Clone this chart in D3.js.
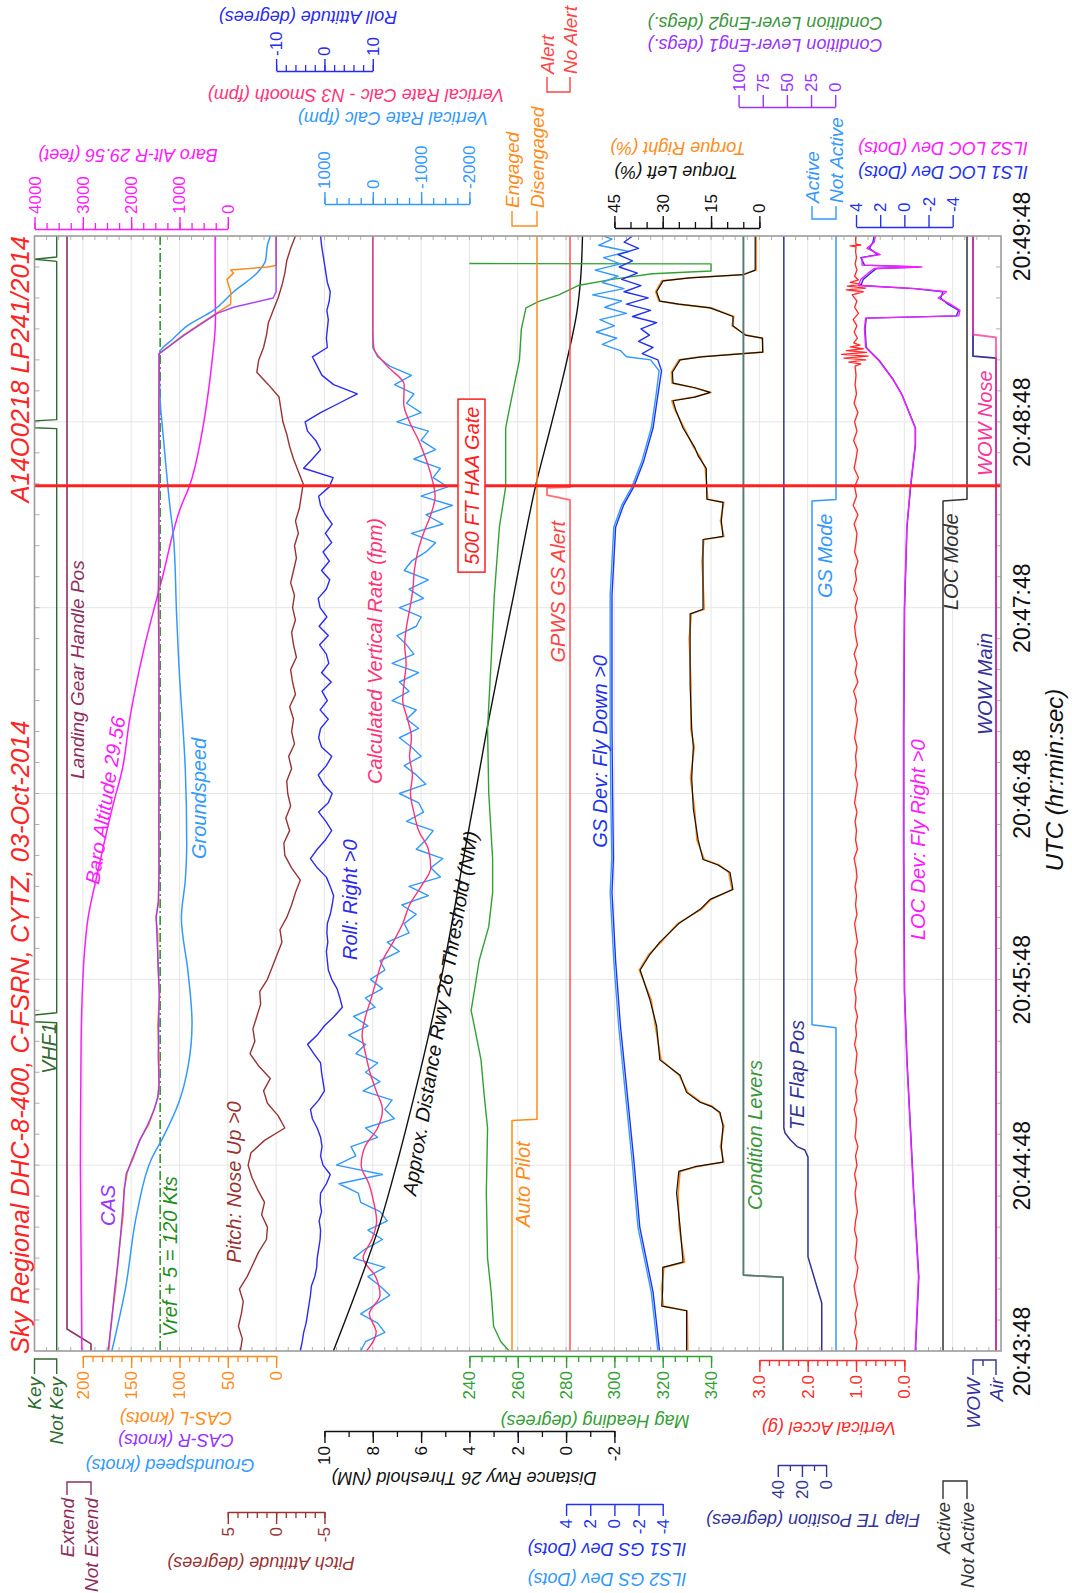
<!DOCTYPE html>
<html>
<head>
<meta charset="utf-8">
<title>Sky Regional DHC-8-400 C-FSRN approach CYTZ</title>
<script src="https://cdn.jsdelivr.net/npm/d3@7"></script>
<style>
  html, body { margin: 0; padding: 0; background: #fff; }
  svg { display: block; font-family: "Liberation Sans", Arial, Helvetica, sans-serif; }
</style>
</head>
<body>
<svg id="chart" width="1072" height="1593"></svg>
<script>
// ---------------------------------------------------------------
// Flight data, seconds after 20:43:48 UTC
// ---------------------------------------------------------------
const timeTicksSec = [0, 60, 120, 180, 240, 300, 360];
const haaGateSec = 279.4;

// discrete parameters: [sec, state]
const keyPts      = [[0,0],[106,0],[106.3,1],[108.5,1],[109.2,0],[297.8,0],[298.1,1],[300.3,1],[300.7,0],[351.8,0],[352.5,1],[353.2,0],[360,0]];
const gearPts     = [[0,0],[2.3,0],[7.1,1],[360,1]];
const autoPilotPts= [[0,1],[74.4,1],[74.8,0],[360,0]];
const gpwsPts     = [[0,0],[274.8,0],[276.3,1],[278.7,1],[278.9,0],[360,0]];
const gsModePts   = [[0,0],[104.4,0],[105.3,1],[274.4,1],[274.9,0],[360,0]];
const locModePts  = [[0,1],[274.4,1],[275,0],[360,0]];
const wowMainPts  = [[0,0],[320.6,0],[321.2,1],[360,1]];
const wowNosePts  = [[0,0],[327.3,0],[328.2,1],[360,1]];

// Baro Alt-R 29.56 (feet)
const baroAltPts = [[0,3020],[30,3035],[60,3050],[90,3040],[105,3030],[116,3010],[128,2970],[140,2890],[152,2730],[164,2560],[176,2380],[188,2180],[204,2030],[227,1730],[250,1350],[273,960],[279,800],[296,540],[310,400],[319,330],[333,255],[342,260],[360,262]];

// CAS-L, CAS-R, Groundspeed (knots)
const casRPts = [[0,174],[10,170],[20,167],[30,163],[44.5,159],[52,157],[57.5,155],[58.5,153],[62,149],[68,141],[73,133],[78,126],[82,122.5],[86,121],[95,122],[105,121.5],[115,121],[125,122],[135,123.5],[140,124],[145,122],[155,121],[170,121.5],[185,121],[200,121.5],[215,121],[230,121.5],[245,122],[260,121],[275,121.5],[290,121],[305,121.5],[315,121],[322,121],[328,95],[335,61],[337,44],[340,3],[342,0],[360,0]];
const casLPts = [[0,173],[10,170.5],[20,166],[30,163.5],[44.5,158],[52,157.5],[57.5,154],[58.5,153.5],[62,148],[68,141.5],[73,132],[78,126.5],[82,122],[86,121.5],[95,121],[105,122.5],[115,120.5],[125,122.5],[135,122.5],[140,124.5],[145,121.5],[155,121.5],[170,121],[185,121.5],[200,121],[215,121.5],[230,121],[245,121.5],[260,121.5],[275,121],[290,121.5],[305,121],[315,121.5],[322,121],[328,96],[335,62],[338,47],[342,47],[346,51],[348,44],[349,47],[350,9],[350.5,0],[360,0]];
const groundspeedPts = [[0,170],[20,156],[44.5,144],[62,129],[69,117],[80,101],[92,91],[106,87],[122,91],[140,98],[152,94],[164,92.5],[188,94],[204,97],[215.5,99.5],[238,103],[262,106],[273,110],[279,112],[296,117],[307,120],[322,121],[327,106],[331,92],[336,65],[342,44],[348,20],[352,11],[357,9],[360,6]];
const vrefPlus5 = 120;

// Pitch attitude (deg), one value every 4 s
const pitchStep = 4;
const pitchVals = [3.7,3.5,3.9,3.6,3.4,3.8,3.0,2.4,1.8,1.0,
  0.9,1.5,1.2,1.9,2.5,2.9,2.6,1.2,-0.9,-0.2,
  0.9,1.3,0.6,1.8,2.7,2.2,2.4,2.0,1.6,1.7,
  0.9,0.4,-0.1,-0.6,-0.4,-1.1,-1.6,-2.0,-2.5,-1.6,
  -0.9,-0.8,-1.4,-1.0,-1.5,-1.2,-1.1,-1.6,-1.3,-1.9,
  -1.6,-1.8,-1.4,-2.0,-1.7,-1.5,-2.1,-1.8,-1.6,-2.0,
  -1.7,-1.9,-1.5,-1.8,-2.1,-1.9,-2.3,-2.0,-2.4,-2.6,
  -2.8,-2.3,-1.8,-1.4,-1.1,-0.7,-0.5,-0.3,0.8,2.0,
  1.8,1.3,1.0,0.8,0.3,-0.2,-0.6,-0.9,-1.1,-1.5,
  -2.0];

// Roll attitude (deg), one value every 3 s
const rollStep = 3;
const rollVals = [-5.0,-4.6,-4.3,-3.8,-3.5,-3.2,-2.9,-2.7,-2.0,-1.6,
  -1.5,-1.2,-0.9,-0.8,-1.1,-0.6,-0.9,-0.8,0.4,1.2,
  -0.3,-0.8,-0.5,-0.8,-1.5,-2.5,-2.9,-1.2,0.0,-0.3,
  -0.6,-0.8,-2.2,-3.5,-1.5,0.0,2.0,3.7,3.2,2.6,
  1.5,0.8,0.6,0.4,0.7,0.5,0.6,1.2,1.6,1.9,
  1.2,0.4,-1.5,-2.9,-1.5,0.2,1.5,0.3,-1.2,0.8,
  1.6,-0.2,-1.3,0.4,1.5,-0.6,-1.2,-0.8,0.8,-0.9,
  0.6,-0.5,1.4,-0.6,0.9,0.4,-1.0,0.8,-1.1,0.5,
  -0.9,-1.3,0.4,1.1,-0.6,1.0,-0.3,1.5,0.2,1.6,
  0.2,-0.8,-1.2,1.0,1.8,-4.3,-2.5,-0.8,-1.8,-3.5,
  -4.0,-0.8,3.0,6.8,1.9,-0.5,-1.5,-2.5,0.6,0.4,
  0.6,0.8,0.5,1.0,1.2,0.6,0.3,0.0,-0.3,-0.6,
  -0.8];

// Vertical rate calc (fpm), every 3 s
const vrCalcStep = 3;
const vrCalcVals = [250,150,-250,-100,250,-50,-350,-150,100,-250,
  400,150,-200,100,-300,-150,250,300,700,-200,
  750,350,450,-100,150,-450,-250,-400,200,-150,
  150,-100,350,150,500,100,400,-50,150,-200,
  50,-250,-150,-550,-300,-750,-650,-900,-600,-1150,
  -750,-1400,-1200,-1450,-900,-1100,-1250,-700,-1050,-950,
  -550,-1100,-900,-650,-1000,-800,-550,-950,-700,-900,
  -400,-750,-550,-950,-400,-850,-700,-500,-900,-1000,
  -550,-1050,-750,-1150,-650,-800,-1100,-1300,-800,-1450,
  -1100,-1650,-1000,-1550,-1250,-1400,-850,-1300,-1000,-1150,
  -500,-1000,-700,-850,-450,-800,-350,-100,0,0,
  0,0,0,0,0,0,0,0,0,0,
  0];

// Vertical rate calc - N3 smooth (fpm), every 6 s
const vrSmoothStep = 6;
const vrSmoothVals = [130,-70,70,-150,-60,200,20,-80,-20,80,
  240,160,-100,-200,-70,60,150,220,150,30,
  -80,-200,-420,-620,-760,-1000,-1200,-1150,-950,-850,
  -780,-820,-760,-800,-720,-620,-650,-690,-660,-700,
  -770,-830,-860,-930,-1050,-1200,-1290,-1220,-1100,-950,
  -760,-640,-650,-300,-20,0,0,0,0,0,
  0];

// Approx. distance to Rwy 26 threshold (NM)
const distancePts = [[0,9.63],[20,8.65],[40,7.75],[62,6.95],[83.5,6.25],[105,5.6],[126,5.02],[148,4.5],[159,4.25],[180,3.75],[201,3.27],[223,2.72],[244,2.17],[266,1.62],[279,1.27],[298,0.65],[320,-0.04],[336,-0.46],[346,-0.6],[360,-0.68]];

// Magnetic heading (deg)
const headingPts = [[0,256.5],[3,253],[8,250],[19,249],[30,247.5],[51,247],[72,247.5],[83.5,246],[94,244.8],[105,242],[110,240.7],[116,242],[126,244],[137,248],[148,249.6],[159,249.6],[180,248],[201,247.5],[223,249],[244,250.3],[266,252.4],[279,255],[298,255],[304,256.5],[320,260.7],[330,261.5],[336.8,263.4],[339,269],[341,277],[344,285],[346,299],[347.8,315.6],[348.7,345],[351,345],[351.1,235]];

// ILS glideslope deviation (dots)
const gsDev1Pts = [[0,-3.74],[19,-3.2],[40,-2.1],[62,-1.6],[83.5,-1.05],[105,-0.5],[126,-0.1],[148,0.2],[159,0.08],[180,0.15],[201,0.2],[223,0.2],[244,0.2],[266,-0.1],[273,-0.75],[279,-1.6],[287,-2.4],[298,-3.2],[308.7,-3.6],[316.5,-3.9],[320,-3.6],[322,-2.3],[324,-3.2],[326,-2.0],[328,-2.9],[330,-2.2],[332,-3.5],[334,-1.5],[336,-3.0],[338,-1.0],[340,-2.8],[342,-0.8],[344,-2.2],[346,-0.6],[348,-1.9],[350,-0.4],[352,-1.5],[354,-0.3],[356,-2.0],[358,-0.8],[360,-1.5]];
const gsDev2Pts = [[0,-3.6],[19,-3.05],[40,-1.95],[62,-1.45],[83.5,-0.9],[105,-0.35],[126,0.05],[148,0.35],[159,0.22],[180,0.3],[201,0.35],[223,0.35],[244,0.35],[266,0.05],[273,-0.6],[279,-1.45],[287,-2.25],[298,-3.05],[308.7,-3.45],[316.5,-3.7],[320,-3.0],[321,-1.0],[323,-0.5],[325,1.0],[327,-0.2],[329,1.5],[331,0.0],[333,1.2],[335,-1.0],[337,0.8],[339,-0.6],[341,1.8],[343,-0.8],[345,1.0],[347,-0.3],[349,1.6],[351,-0.5],[353,0.9],[355,-1.2],[357,1.3],[359,0.2],[360,0.9]];

// Engine torque (%)
const torqueLeftPts = [[0,22.6],[13,22.6],[14.5,30.3],[20,30],[27,30],[28.7,23.7],[40,24.6],[51,25.7],[58,25],[59.5,20],[61,11.3],[66,11.8],[72.6,11.3],[77,12.2],[79,15],[80.3,18.4],[83.5,22.6],[89,24.6],[94,30.9],[105,31.9],[113.5,34],[123,37],[128,34],[132,30.9],[138,25],[142.6,18.4],[145.8,15.3],[149,8.2],[154.5,9.1],[157,13],[158.7,17.5],[165,19],[175,20.5],[185,21],[195,20.5],[201,21],[215,21.5],[230,21.5],[238,21.5],[239.5,17.5],[255,17.5],[262,17.5],[263,11.3],[268,11.8],[274,11.3],[275,16.3],[285,16.5],[289,19],[291.6,20],[298,23.7],[304,26],[306.8,26.8],[308,20],[309.5,15.3],[311,20],[312.5,26.8],[316,27],[320,24.6],[321,18],[322.5,-1],[327,-1],[328,4.4],[331,8.2],[334,8.2],[336.8,15.3],[338,25],[339,30.9],[342,31.9],[345.5,29.9],[346.5,21.5],[347.5,5],[349,1.3],[360,1.3]];
const torqueRightPts = [[0,22.2],[13,22.4],[14.5,29.8],[20,30.4],[27,29.6],[28.7,23.2],[40,24.9],[51,25.2],[58,24.6],[59.5,19.5],[61,11.0],[66,12.1],[72.6,11.0],[77,12.5],[79,14.6],[80.3,18.0],[83.5,22.2],[89,24.9],[94,30.5],[105,32.3],[113.5,33.6],[123,37.3],[128,34.4],[132,30.5],[138,25.4],[142.6,18.0],[145.8,15.0],[149,8.5],[154.5,9.5],[157,12.6],[158.7,17.1],[165,19.4],[175,20.1],[185,21.4],[195,20.2],[201,21.3],[215,21.2],[230,21.8],[238,21.1],[239.5,17.1],[255,17.8],[262,17.2],[263,11.0],[268,12.1],[274,11.0],[275,16.0],[285,16.8],[289,18.6],[291.6,20.3],[298,23.3],[304,26.3],[306.8,27.2],[308,20.4],[309.5,15.0],[311,20.3],[312.5,27.1],[316,27.3],[320,25.0],[321,18.3],[322.5,-1.2],[327,-0.8],[328,4.0],[331,8.5],[334,7.9],[336.8,15.0],[338,25.3],[339,31.2],[342,32.2],[345.5,30.3],[346.5,21.8],[347.5,5.3],[349,1.0],[360,1.0]];

// Condition levers (deg), TE flap position (deg)
const condLever1Pts = [[0,54],[23.8,54],[24.5,95],[360,95]];
const condLever2Pts = [[0,54],[23.8,54],[24.5,95],[360,95]];
const flapPts = [[0,3.6],[15.5,3.6],[30.4,15],[62.6,15],[64.9,17.6],[66,24],[68.1,29.5],[70.4,34],[72,35],[360,35]];

// Vertical acceleration (g): every 3 s to 315 s, then touchdown detail
const accelStep = 3;
const accelVals = [1.00,0.98,1.03,0.99,1.02,0.97,1.01,1.04,0.99,0.96,
  1.02,1.00,0.98,1.03,1.01,0.97,1.00,1.02,0.99,1.03,
  0.98,1.01,0.96,1.02,1.00,0.99,1.04,0.98,1.01,0.97,
  1.02,1.00,0.98,1.03,0.99,1.01,0.97,1.02,1.00,1.03,
  0.98,1.01,0.99,1.02,0.97,1.00,1.03,0.98,1.01,0.99,
  1.02,0.98,1.00,1.04,0.97,1.01,0.99,1.02,0.98,1.03,
  1.00,0.97,1.02,0.99,1.01,0.98,1.03,1.00,0.97,1.02,
  0.99,1.05,0.96,1.02,0.98,1.04,0.97,1.01,1.03,0.98,
  1.02,0.97,1.05,0.99,1.02,0.96,1.03,1.00,0.98,1.04,
  0.96,1.06,0.99,1.03,0.95,1.04,1.00,0.97,1.05,0.98,
  1.03,0.96,1.04,0.99,1.02,1.00];
const accelTouchdownPts = [[318,1.02],[318.7,0.9],[319.3,1.15],[320,0.8],[320.6,1.25],[321.2,0.75],[321.8,1.3],[322.4,0.78],[323,1.2],[323.6,0.85],[324.2,1.12],[324.8,0.92],[325.5,1.05],[327,0.97],[329,1.04],[331,0.98],[333,1.06],[335,0.95],[337,1.03],[339,0.98],[341,1.08],[342,0.85],[342.6,1.2],[343.2,0.8],[343.8,1.18],[344.4,0.88],[345,1.12],[345.8,0.95],[347,1.03],[349,0.98],[351,1.02],[353,0.99],[355,1.01],[356.5,1.0],[356.8,1.12],[357.1,0.9],[357.4,1.0],[359,1.01],[360,1.0]];

// ILS localizer deviation (dots)
const locDev2Pts = [[0,-0.9],[24,-1.17],[51,-0.76],[72.6,-0.48],[94,-0.2],[116,0],[160,0.07],[200,0.07],[240,0.0],[266,-0.2],[279,-0.5],[292.6,-0.9],[298,-0.9],[308.7,0.2],[314,1.0],[319.7,2.1],[324,3.2],[330,3.3],[333.5,3.2],[334.2,-4.5],[336,-4.6],[338,-3.8],[340,-2.8],[342,-3.5],[343,-1.0],[344,3.8],[346,3.6],[348,3.0],[349.5,2.5],[350,-1.45],[350.6,3.5],[353,3.5],[354,2.0],[356,3.1],[358,2.5],[360,2.4]];
const locDev1Pts = [[0,-0.92],[24,-1.2],[51,-0.78],[72.6,-0.5],[94,-0.22],[116,-0.02],[160,0.05],[200,0.05],[240,-0.02],[266,-0.22],[279,-0.52],[292.6,-0.92],[298,-0.92],[308.7,0.18],[314,0.98],[319.7,2.05],[324,3.15],[330,3.25],[333.5,3.15],[334.2,-4.3],[336,-4.5],[338,-3.6],[340,-3.0],[342,-3.2],[343,-0.8],[344,3.6],[346,3.4],[348,2.8],[349.5,2.3],[350,-1.2],[350.6,3.3],[353,3.6],[354,2.2],[356,2.9],[358,2.6],[360,2.5]];

// ---------------------------------------------------------------
// Layout and scales
// ---------------------------------------------------------------
const svg = d3.select('#chart');
const plot = { left: 34.5, right: 1001, top: 236, bottom: 1351 };
const G = (plot.right - plot.left) / 20;       // value grid spacing
const gx = k => plot.left + k * G;

const T0 = new Date(2014, 9, 3, 20, 43, 48);
const at = s => new Date(T0.getTime() + s * 1000);
const yT = d3.scaleTime().domain([at(0), at(360)]).range([plot.bottom, plot.top]);

const xBaro   = d3.scaleLinear().domain([4000, 0]).range([gx(0), gx(4)]);
const xSpeed  = d3.scaleLinear().domain([200, 0]).range([gx(1), gx(5)]);
const xPitch  = d3.scaleLinear().domain([5, -5]).range([gx(4), gx(6)]);
const xRoll   = d3.scaleLinear().domain([-10, 10]).range([gx(5), gx(7)]);
const xVR     = d3.scaleLinear().domain([1000, -2000]).range([gx(6), gx(9)]);
const xDist   = d3.scaleLinear().domain([10, -2]).range([gx(6), gx(12)]);
const xHdg    = d3.scaleLinear().domain([240, 340]).range([gx(9), gx(14)]).clamp(true);
const xGsDev  = d3.scaleLinear().domain([4, -4]).range([gx(11), gx(13)]);
const xTorque = d3.scaleLinear().domain([45, 0]).range([gx(12), gx(15)]);
const xCL     = d3.scaleLinear().domain([100, 0]).range([738.6, 835.2]);
const xAccel  = d3.scaleLinear().domain([3, 0]).range([gx(15), gx(18)]);
const xFlap   = d3.scaleLinear().domain([40, 0]).range([777.8, 826.1]);
const xLocDev = d3.scaleLinear().domain([4, -4]).range([gx(17), gx(19)]);
// two-state parameters: domain [0, 1] -> [inactive x, active x]
const xKey     = d3.scaleLinear().domain([0, 1]).range([56.7, 34.5]);
const xGear    = d3.scaleLinear().domain([0, 1]).range([91, 67]);
const xAP      = d3.scaleLinear().domain([0, 1]).range([537, 512]);
const xGpws    = d3.scaleLinear().domain([0, 1]).range([570, 547]);
const xGsMode  = d3.scaleLinear().domain([0, 1]).range([836, 812]);
const xLocMode = d3.scaleLinear().domain([0, 1]).range([967, 943]);
const xWow     = d3.scaleLinear().domain([0, 1]).range([996, 973]);

const C = {
  title: '#ff2424', key: '#2e6b2e', gear: '#8e2f5c', baro: '#ff1aff',
  casL: '#ff8c1a', casR: '#9933ff', gspd: '#3399ff', vref: '#1f8f1f',
  pitch: '#993333', roll: '#2b2bef', vr: '#3399ff', vrs: '#ff3377',
  dist: '#111111', hdg: '#33a033', ap: '#ff8c1a', gpws: '#ff5555',
  gs1: '#2233ee', gs2: '#3399ff', tqL: '#111111', tqR: '#ff8c1a',
  cl1: '#9933ff', cl2: '#3c963c', flap: '#333399', gsMode: '#3399ff',
  accel: '#ff2a2a', loc1: '#2233ee', loc2: '#ff1aff', locMode: '#333333',
  wowMain: '#333399', wowNose: '#ff3399', haa: '#ff2020', grid: '#e6e6e6', frame: '#9c9c9c'
};

const stepPairs = (vals, step) => vals.map((v, i) => [i * step, v]);

// ---------------------------------------------------------------
// Grid and frame
// ---------------------------------------------------------------
svg.append('defs').append('clipPath').attr('id', 'plotClip')
  .append('rect').attr('x', plot.left).attr('y', plot.top)
  .attr('width', plot.right - plot.left).attr('height', plot.bottom - plot.top);

const gridG = svg.append('g');
d3.range(1, 20).forEach(k => {
  gridG.append('line').attr('x1', gx(k)).attr('x2', gx(k))
    .attr('y1', plot.top).attr('y2', plot.bottom).attr('stroke', C.grid).attr('stroke-width', 1);
});
timeTicksSec.slice(1, -1).forEach(s => {
  gridG.append('line').attr('x1', plot.left).attr('x2', plot.right)
    .attr('y1', yT(at(s))).attr('y2', yT(at(s))).attr('stroke', C.grid).attr('stroke-width', 1);
});
// small edge ticks
d3.range(0, 80).forEach(i => {
  const x = plot.left + i * G / 4;
  gridG.append('line').attr('x1', x).attr('x2', x).attr('y1', plot.top).attr('y2', plot.top + 4).attr('stroke', '#b0b0b0');
  gridG.append('line').attr('x1', x).attr('x2', x).attr('y1', plot.bottom).attr('y2', plot.bottom - 4).attr('stroke', '#b0b0b0');
});
d3.range(10, 360, 10).forEach(s => {
  const y = yT(at(s));
  gridG.append('line').attr('x1', plot.left).attr('x2', plot.left + 5).attr('y1', y).attr('y2', y).attr('stroke', '#b0b0b0');
  gridG.append('line').attr('x1', plot.right).attr('x2', plot.right - 5).attr('y1', y).attr('y2', y).attr('stroke', '#b0b0b0');
});

// ---------------------------------------------------------------
// Series
// ---------------------------------------------------------------
const dataG = svg.append('g').attr('clip-path', 'url(#plotClip)');
function drawSeries(pairs, xs, color, width, extra) {
  const line = d3.line()
    .x(d => xs(d[1]))
    .y(d => yT(at(d[0])))
    .curve((extra && extra.curve) || d3.curveLinear);
  const p = dataG.append('path').datum(pairs).attr('d', line)
    .attr('fill', 'none').attr('stroke', color).attr('stroke-width', width || 1.4)
    .attr('stroke-linejoin', 'round');
  if (extra && extra.dash) p.attr('stroke-dasharray', extra.dash);
  if (extra && extra.opacity) p.attr('stroke-opacity', extra.opacity);
  return p;
}

drawSeries(keyPts, xKey, C.key, 1.4);
drawSeries(gearPts, xGear, C.gear, 1.6);
drawSeries(baroAltPts, xBaro, C.baro, 1.5, { curve: d3.curveMonotoneY });
// Vref + 5 reference line
dataG.append('line').attr('x1', xSpeed(vrefPlus5)).attr('x2', xSpeed(vrefPlus5))
  .attr('y1', plot.top).attr('y2', plot.bottom).attr('stroke', C.vref)
  .attr('stroke-width', 1.5).attr('stroke-dasharray', '9,3,2,3');
drawSeries(groundspeedPts, xSpeed, C.gspd, 1.5, { curve: d3.curveMonotoneY });
drawSeries(casLPts, xSpeed, C.casL, 1.5);
drawSeries(casRPts, xSpeed, C.casR, 1.4, { opacity: 0.9 });
drawSeries(stepPairs(pitchVals, pitchStep), xPitch, C.pitch, 1.4);
drawSeries(stepPairs(rollVals, rollStep), xRoll, C.roll, 1.4);
drawSeries(stepPairs(vrCalcVals, vrCalcStep), xVR, C.vr, 1.4);
drawSeries(stepPairs(vrSmoothVals, vrSmoothStep), xVR, C.vrs, 1.4, { curve: d3.curveMonotoneY });
drawSeries(distancePts, xDist, C.dist, 1.4, { curve: d3.curveMonotoneY });
drawSeries(headingPts, xHdg, C.hdg, 1.4);
drawSeries(autoPilotPts, xAP, C.ap, 1.5);
drawSeries(gpwsPts, xGpws, C.gpws, 1.8, { opacity: 0.85 });
drawSeries(gsDev2Pts, xGsDev, C.gs2, 1.4);
drawSeries(gsDev1Pts, xGsDev, C.gs1, 1.4);
drawSeries(torqueRightPts, xTorque, C.tqR, 1.6);
drawSeries(torqueLeftPts, xTorque, C.tqL, 1.2);
drawSeries(condLever1Pts, xCL, C.cl1, 1.6);
drawSeries(condLever2Pts, xCL, C.cl2, 1.6, { opacity: 0.85 });
drawSeries(flapPts, xFlap, C.flap, 1.5);
drawSeries(gsModePts, xGsMode, C.gsMode, 1.5);
drawSeries(stepPairs(accelVals, accelStep).concat(accelTouchdownPts), xAccel, C.accel, 1.3);
drawSeries(locDev1Pts, xLocDev, C.loc1, 1.4);
drawSeries(locDev2Pts, xLocDev, C.loc2, 1.4);
drawSeries(locModePts, xLocMode, C.locMode, 1.5);
drawSeries(wowMainPts, xWow, C.wowMain, 1.8);
drawSeries(wowNosePts, xWow, C.wowNose, 1.8, { opacity: 0.8 });

// 500 ft HAA gate marker
const yGate = yT(at(haaGateSec));
svg.append('line').attr('x1', plot.left).attr('x2', plot.right).attr('y1', yGate).attr('y2', yGate)
  .attr('stroke', C.haa).attr('stroke-width', 3);

// plot frame
svg.append('rect').attr('x', plot.left).attr('y', plot.top)
  .attr('width', plot.right - plot.left).attr('height', plot.bottom - plot.top)
  .attr('fill', 'none').attr('stroke', C.frame).attr('stroke-width', 1.6);

// ---------------------------------------------------------------
// Text helpers
// ---------------------------------------------------------------
function rotLabel(text, x, y, color, opts) {
  const o = Object.assign({ anchor: 'start', size: 20, angle: -90, italic: true, weight: 'normal' }, opts || {});
  return svg.append('text')
    .attr('transform', `translate(${x},${y}) rotate(${o.angle})`)
    .attr('text-anchor', o.anchor).attr('dominant-baseline', 'central')
    .attr('fill', color).style('font-size', o.size + 'px')
    .style('font-style', o.italic ? 'italic' : 'normal').style('font-weight', o.weight)
    .text(text);
}
function axisTitle(text, x, y, color) {
  return rotLabel(text, x, y, color, { anchor: 'middle', size: 18, angle: 180 });
}

// ---------------------------------------------------------------
// Value axes
// ---------------------------------------------------------------
function valueAxis(scale, yPos, up, majors, minors, color, fmt) {
  const make = () => (up ? d3.axisTop(scale) : d3.axisBottom(scale));
  if (minors && minors.length) {
    const gm = svg.append('g').attr('transform', `translate(0,${yPos})`)
      .call(make().tickValues(minors).tickSize(6).tickSizeOuter(0).tickFormat(''));
    gm.attr('font-family', null).attr('font-size', null);
    gm.select('.domain').remove();
    gm.selectAll('line').attr('stroke', color).attr('stroke-width', 1.3);
  }
  const g = svg.append('g').attr('transform', `translate(0,${yPos})`)
    .call(make().tickValues(majors).tickSize(12).tickSizeOuter(0).tickFormat(fmt || (d => String(d))));
  g.attr('font-family', null).attr('font-size', null);
  g.selectAll('line, path').attr('stroke', color).attr('stroke-width', 1.4);
  g.selectAll('.tick text')
    .attr('x', 0).attr('y', 0).attr('dy', null)
    .attr('transform', `translate(0,${up ? -15 : 15}) rotate(-90)`)
    .attr('text-anchor', up ? 'start' : 'end')
    .attr('dominant-baseline', 'central')
    .attr('fill', color).style('font-size', '17px');
  return g;
}

// axes above the plot
valueAxis(xBaro, 229, true, [4000, 3000, 2000, 1000, 0], d3.range(0, 4001, 250), C.baro);
valueAxis(xVR, 204, true, [1000, 0, -1000, -2000], d3.range(-2000, 1001, 250), C.vr);
valueAxis(xRoll, 71, true, [-10, 0, 10], d3.range(-10, 10.1, 2), C.roll);
valueAxis(xTorque, 228, true, [45, 30, 15, 0], d3.range(0, 46, 5), C.tqL);
valueAxis(xCL, 107, true, [100, 75, 50, 25, 0], [], C.cl1);
valueAxis(xLocDev, 227, true, [4, 2, 0, -2, -4], [], C.loc1);
// axes below the plot
valueAxis(xSpeed, 1356, false, [200, 150, 100, 50, 0], d3.range(0, 201, 10), C.casL);
valueAxis(xHdg, 1356, false, [240, 260, 280, 300, 320, 340], d3.range(240, 341, 5), C.hdg);
valueAxis(xAccel, 1360, false, [3, 2, 1, 0], d3.range(0, 3.01, 0.2), C.accel, d3.format('.1f'));
valueAxis(xDist, 1431, false, [10, 8, 6, 4, 2, 0, -2], d3.range(-2, 10.1, 1), C.dist);
valueAxis(xFlap, 1465, false, [40, 20, 0], [30, 10], C.flap);
valueAxis(xGsDev, 1504, false, [4, 2, 0, -2, -4], [], C.gs1);
valueAxis(xPitch, 1512, false, [5, 0, -5], d3.range(-5, 5.1, 1), C.pitch);

// two-state brackets
function bracket(xs, yJoin, yEnd, color, labels, stub) {
  const xa = xs(1), xb = xs(0);
  const path = d3.path();
  path.moveTo(xa, yEnd); path.lineTo(xa, yJoin); path.lineTo(xb, yJoin); path.lineTo(xb, yEnd);
  if (stub) { path.moveTo(stub[0], yJoin); path.lineTo(stub[0], yJoin + stub[1]); }
  svg.append('path').attr('d', path.toString()).attr('fill', 'none').attr('stroke', color).attr('stroke-width', 1.4);
  const up = yEnd < yJoin;
  [[labels[0], xa], [labels[1], xb]].forEach(([txt, x]) => {
    rotLabel(txt, x, up ? yEnd - 3 : yEnd + 3, color, { anchor: up ? 'start' : 'end', size: 19 });
  });
}
bracket(xAP, 226, 211, C.ap, ['Engaged', 'Disengaged']);
bracket(xGpws, 92, 77, '#ff4444', ['Alert', 'No Alert']);
bracket(xGsMode, 219, 206, C.gsMode, ['Active', 'Not Active']);
bracket(xKey, 1359, 1374, C.key, ['Key', 'Not Key']);
bracket(xGear, 1482, 1495, C.gear, ['Extend', 'Not Extend']);
bracket(xLocMode, 1481, 1499, C.locMode, ['Active', 'Not Active']);
bracket(xWow, 1360, 1375, C.wowMain, ['WOW', 'Air'], [983, 6]);

// axis titles (upside down)
axisTitle('Baro Alt-R 29.56 (feet)', 128, 155, C.baro);
axisTitle('Vertical Rate Calc (fpm)', 393, 118, C.vr);
axisTitle('Vertical Rate Calc - N3 Smooth (fpm)', 356, 95, C.vrs);
axisTitle('Roll Attitude (degrees)', 308, 17, C.roll);
axisTitle('Torque Right (%)', 678, 148, C.tqR);
axisTitle('Torque Left (%)', 676, 172, C.tqL);
axisTitle('Condition Lever-Eng2 (degs.)', 765, 23, C.cl2);
axisTitle('Condition Lever-Eng1 (degs.)', 765, 45, C.cl1);
axisTitle('ILS2 LOC Dev (Dots)', 943, 148, C.loc2);
axisTitle('ILS1 LOC Dev (Dots)', 943, 172, C.loc1);
axisTitle('CAS-L (knots)', 176, 1418, C.casL);
axisTitle('CAS-R (knots)', 176, 1440, C.casR);
axisTitle('Groundspeed (knots)', 170, 1465, C.gspd);
axisTitle('Pitch Attitude (degrees)', 261, 1563, C.pitch);
axisTitle('Distance Rwy 26 Threshold (NM)', 464, 1478, C.dist);
axisTitle('Mag Heading (degrees)', 595, 1421, C.hdg);
axisTitle('ILS1 GS Dev (Dots)', 607, 1549, C.gs1);
axisTitle('ILS2 GS Dev (Dots)', 607, 1579, C.gs2);
axisTitle('Vertical Accel (g)', 829, 1428, C.accel);
axisTitle('Flap TE Position (degrees)', 813, 1520, C.flap);

// time axis
const timeAxis = d3.axisRight(yT).tickValues(timeTicksSec.map(at))
  .tickFormat(d3.timeFormat('%H:%M:%S')).tickSize(0);
const gTime = svg.append('g').attr('transform', `translate(${plot.right},0)`).call(timeAxis);
gTime.attr('font-family', null).attr('font-size', null);
gTime.select('.domain').remove();
gTime.selectAll('.tick text')
  .attr('x', 0).attr('y', 0).attr('dy', null)
  .attr('transform', 'translate(21,0) rotate(-90)')
  .attr('text-anchor', 'middle').attr('dominant-baseline', 'central')
  .attr('fill', '#111').style('font-size', '23px');
rotLabel('UTC (hr:min:sec)', 1054, 780, '#111', { anchor: 'middle', size: 24 });

// titles
rotLabel('Sky Regional DHC-8-400, C-FSRN, CYTZ, 03-Oct-2014', 20, 1354, C.title, { size: 25.5 });
rotLabel('A14O0218  LP241/2014', 20, 236, C.title, { anchor: 'end', size: 25.5 });

// in-plot annotations
rotLabel('VHF1', 49, 1074, C.key);
rotLabel('Landing Gear Handle Pos', 77, 779, C.gear, { size: 19 });
rotLabel('Baro Altitude 29.56', 92, 884, C.baro, { angle: -81 });
rotLabel('CAS', 108, 1226, C.casR);
rotLabel('Groundspeed', 199, 859, C.gspd);
rotLabel('Vref + 5 = 120 Kts', 170, 1337, C.vref);
rotLabel('Pitch: Nose Up >0', 234, 1263, C.pitch);
rotLabel('Roll: Right >0', 350, 960, C.roll);
rotLabel('Calculated Vertical Rate (fpm)', 375, 518, C.vrs, { anchor: 'end' });
rotLabel('Approx. Distance Rwy 26 Threshold (NM)', 409, 1195, C.dist, { angle: -80.3 });
rotLabel('GPWS GS Alert', 558, 521, '#ff4444', { anchor: 'end' });
rotLabel('Auto Pilot', 523, 1227, C.ap);
rotLabel('GS Dev: Fly Down >0', 600, 655, C.gs1, { anchor: 'end' });
rotLabel('Condition Levers', 755, 1210, C.cl2);
rotLabel('TE Flap Pos', 797, 1130, C.flap);
rotLabel('GS Mode', 825, 598, C.gsMode);
rotLabel('LOC Mode', 951, 610, C.locMode);
rotLabel('WOW Nose', 985, 476, C.wowNose);
rotLabel('WOW Main', 985, 735, C.wowMain);
rotLabel('LOC Dev: Fly Right >0', 918, 940, C.loc2);

// gate box
svg.append('rect').attr('x', 458).attr('y', yGate - 86.5).attr('width', 27).attr('height', 173)
  .attr('fill', '#fff').attr('stroke', C.haa).attr('stroke-width', 1.5);
rotLabel('500 FT HAA Gate', 471.5, yGate, C.haa, { anchor: 'middle' });
</script>
</body>
</html>
